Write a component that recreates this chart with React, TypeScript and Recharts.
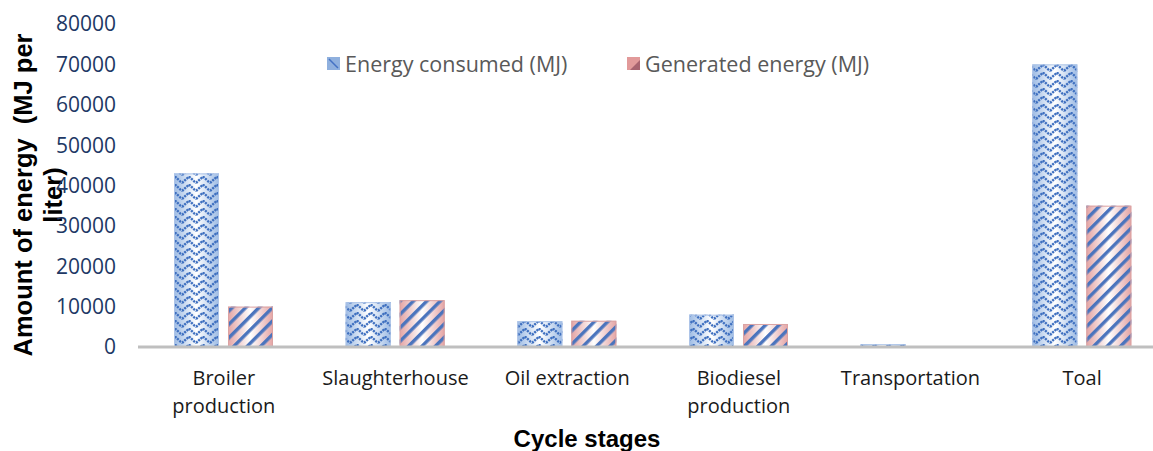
import React from "react"
import { BarChart, Bar, XAxis, YAxis, Text } from "recharts"

// values
const stages = [
  "Broiler production",
  "Slaughterhouse",
  "Oil extraction",
  "Biodiesel production",
  "Transportation",
  "Toal",
]
const energyConsumed = [43000, 11100, 6400, 8000, 700, 70000]
const generatedEnergy = [10000, 11600, 6500, 5700, 0, 35000]
const yTicks = [0, 10000, 20000, 30000, 40000, 50000, 60000, 70000, 80000]

const seriesNames = ["Energy consumed (MJ)", "Generated energy (MJ)"]

const data = stages.map((stage, i) => ({
  stage,
  consumed: energyConsumed[i],
  generated: generatedEnergy[i],
}))

const FONT = "'Open Sans', 'Noto Sans', sans-serif"
const BOLD_FONT = "'Liberation Sans', Arial, sans-serif"

const PatternBar = (props: any) => {
  const { x, y, width, height, kind } = props
  if (!height || height <= 0) return null
  const isConsumed = kind === "consumed"
  return (
    <g>
      <rect x={x} y={y} width={width} height={height} fill={isConsumed ? "url(#blueShade)" : "url(#pinkShade)"} />
      <rect x={x} y={y} width={width} height={height} fill={isConsumed ? "url(#zigzag)" : "url(#stripes)"} />
      <rect
        x={x + 0.5}
        y={y + 0.5}
        width={Math.max(width - 1, 0)}
        height={Math.max(height - 1, 0)}
        fill="none"
        stroke={isConsumed ? "#adc4e8" : "#dba3a3"}
        strokeWidth={1}
      />
    </g>
  )
}

const StageTick = ({ x, y, payload }: any) => (
  <Text
    x={x}
    y={y}
    width={135}
    textAnchor="middle"
    verticalAnchor="start"
    lineHeight={28}
    fill="#1a1a1a"
    style={{ fontSize: 20, fontFamily: FONT }}
  >
    {payload.value}
  </Text>
)

const LegendMarker = ({ kind }: { kind: string }) => (
  <svg width={13} height={13} style={{ marginRight: 5 }}>
    {kind === "consumed" ? (
      <>
        <rect x={0} y={0} width={13} height={13} fill="#8fb0de" />
        <path d="M2,2 L11,11" stroke="#4472c4" strokeWidth={1.5} />
      </>
    ) : (
      <>
        <rect x={0} y={0} width={13} height={13} fill="#e29a9a" />
        <path d="M13,3 L13,13 L3,13 Z" fill="#a8636f" />
      </>
    )}
  </svg>
)

const App = () => {
  return (
    <div
      style={{
        position: "absolute",
        left: 0,
        top: 0,
        width: 1153,
        height: 451,
        overflow: "hidden",
        background: "#fff",
      }}
    >
      <BarChart
        width={1168}
        height={451}
        data={data}
        margin={{ top: 24, right: 0, bottom: 0, left: 0 }}
        barSize={45}
        barGap={9}
      >
        <defs>
          <linearGradient id="blueShade" x1="0" y1="0" x2="1" y2="0">
            <stop offset="0" stopColor="#9dbbe4" />
            <stop offset="0.5" stopColor="#ffffff" />
            <stop offset="1" stopColor="#9dbbe4" />
          </linearGradient>
          <linearGradient id="pinkShade" x1="0" y1="0" x2="1" y2="0">
            <stop offset="0" stopColor="#e4a4a4" />
            <stop offset="0.5" stopColor="#ffffff" />
            <stop offset="1" stopColor="#e4a4a4" />
          </linearGradient>
          <pattern id="zigzag" patternUnits="userSpaceOnUse" width={14} height={8}>
            <path
              d="M0,7 L7,0.5 L14,7"
              fill="none"
              stroke="#3f70c0"
              strokeWidth={2.4}
              strokeDasharray="2.2 0.9"
            />
          </pattern>
          <pattern
            id="stripes"
            patternUnits="userSpaceOnUse"
            width={9.5}
            height={9.5}
            patternTransform="rotate(45)"
          >
            <rect x={0} y={0} width={3.4} height={9.5} fill="#4b74bd" />
          </pattern>
        </defs>
        <XAxis
          dataKey="stage"
          interval={0}
          height={104}
          tickLine={false}
          tickSize={0}
          tickMargin={24}
          axisLine={{ stroke: "#bfbfbf", strokeWidth: 3 }}
          tick={<StageTick />}
          label={{
            content: () => (
              <text
                x={587}
                y={447}
                textAnchor="middle"
                fontFamily={BOLD_FONT}
                fontWeight="bold"
                fontSize={24}
                fill="#000"
              >
                Cycle stages
              </text>
            ),
          }}
        />
        <YAxis
          type="number"
          domain={[0, 80000]}
          ticks={yTicks}
          width={138}
          axisLine={false}
          tickLine={false}
          tickSize={0}
          tickMargin={22}
          tick={{ fontSize: 21, fill: "#203864", fontFamily: FONT }}
          label={{
            content: () => (
              <g fontFamily={BOLD_FONT} fontWeight="bold" fontSize={25.5} fill="#000">
                <text
                  transform="translate(32,195) rotate(-90)"
                  textAnchor="middle"
                  style={{ whiteSpace: "pre" }}
                >
                  {"Amount of energy  (MJ per"}
                </text>
                <text transform="translate(62,195) rotate(-90)" textAnchor="middle">
                  liter)
                </text>
              </g>
            ),
          }}
        />
        <Bar
          dataKey="consumed"
          name={seriesNames[0]}
          isAnimationActive={false}
          shape={(p: any) => <PatternBar {...p} kind="consumed" />}
        />
        <Bar
          dataKey="generated"
          name={seriesNames[1]}
          isAnimationActive={false}
          shape={(p: any) => <PatternBar {...p} kind="generated" />}
        />
      </BarChart>
      <div
        style={{
          position: "absolute",
          left: 327,
          top: 49,
          display: "flex",
          alignItems: "center",
          fontFamily: FONT,
          fontSize: 21.5,
          color: "#595959",
          whiteSpace: "pre",
        }}
      >
        <div style={{ display: "flex", alignItems: "center", width: 300 }}>
          <LegendMarker kind="consumed" />
          <span>{seriesNames[0]}</span>
        </div>
        <div style={{ display: "flex", alignItems: "center" }}>
          <LegendMarker kind="generated" />
          <span>{seriesNames[1]}</span>
        </div>
      </div>
    </div>
  )
}

export default App
